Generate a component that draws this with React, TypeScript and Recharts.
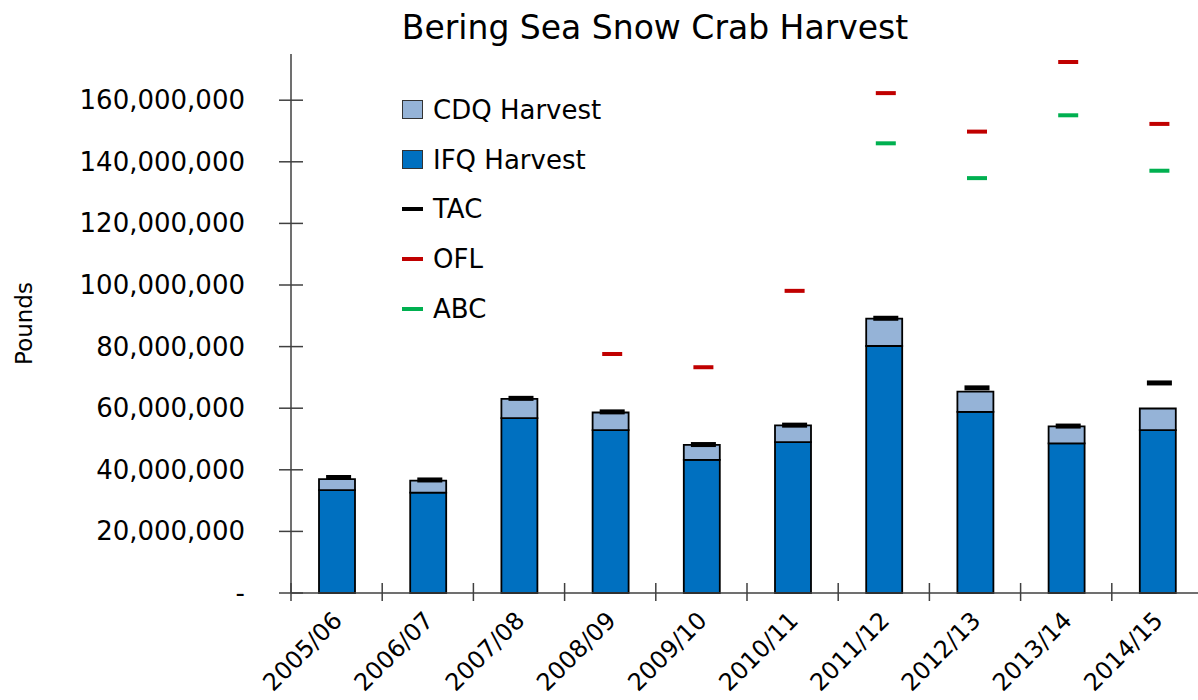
import React from 'react';
import { ComposedChart, Bar, Line, XAxis, YAxis, Legend } from 'recharts';

// values in millions of pounds
const years = ['2005/06', '2006/07', '2007/08', '2008/09', '2009/10', '2010/11', '2011/12', '2012/13', '2013/14', '2014/15'];
const ifqHarvest = [33.4, 32.6, 56.8, 52.9, 43.2, 49.0, 80.2, 58.8, 48.6, 52.9];
const cdqHarvest = [3.6, 3.9, 6.2, 5.7, 4.9, 5.4, 8.9, 6.6, 5.5, 7.0];
const tac = [37.5, 36.7, 63.2, 58.8, 48.2, 54.5, 89.2, 66.6, 54.2, 68.2];
const ofl = [null, null, null, 77.6, 73.3, 98.1, 162.3, 149.8, 172.4, 152.3];
const abc = [null, null, null, null, null, null, 146.0, 134.7, 155.1, 137.1];
const yTicks = [0, 20, 40, 60, 80, 100, 120, 140, 160];

const data = years.map((year, i) => ({
  year,
  ifq: ifqHarvest[i],
  cdq: cdqHarvest[i],
  tac: tac[i],
  ofl: ofl[i],
  abc: abc[i],
}));

const FONT = '"DejaVu Sans", sans-serif';
const CHART_W = 1210;
const CHART_H = 700;
const MARGIN = { top: 54, right: 7, bottom: 0, left: 0 };
const Y_AXIS_W = 291;
const BAND = (CHART_W - MARGIN.left - MARGIN.right - Y_AXIS_W) / years.length;

const legendItems = [
  { name: 'CDQ Harvest', color: '#95B3D7', kind: 'box' },
  { name: 'IFQ Harvest', color: '#0070C0', kind: 'box' },
  { name: 'TAC', color: '#000000', kind: 'line' },
  { name: 'OFL', color: '#C00000', kind: 'line' },
  { name: 'ABC', color: '#00B050', kind: 'line' },
];

const makeDash = (color: string, w: number, h: number) => (props: any) => {
  const { cx, cy, index } = props;
  if (cx == null || cy == null || Number.isNaN(cy)) return <g key={`d-${index}`} />;
  return <rect key={`d-${index}`} x={cx - w / 2 + 2} y={cy - h / 2} width={w} height={h} fill={color} />;
};

const YTick = (props: any) => {
  const { x, y, payload } = props;
  const label = payload.value === 0 ? '-' : (payload.value * 1e6).toLocaleString('en-US');
  return (
    <g>
      <line x1={x - 12} x2={x + 12} y1={y} y2={y} stroke="#404040" strokeWidth={1.5} />
      <text x={x - 46} y={y + 9} textAnchor="end" fontSize={26} fontFamily={FONT} fill="#000">
        {label}
      </text>
    </g>
  );
};

const XTick = (props: any) => {
  const { x, y, payload } = props;
  const tx = x + 7;
  const ty = y + 29;
  return (
    <g>
      <line x1={x - BAND / 2} x2={x - BAND / 2} y1={y - 10} y2={y + 8} stroke="#404040" strokeWidth={1.5} />
      <text x={tx} y={ty} textAnchor="end" fontSize={24} fontFamily={FONT} fill="#000" transform={`rotate(-45 ${tx} ${ty})`}>
        {payload.value}
      </text>
    </g>
  );
};

const LegendBox = () => (
  <div style={{ fontFamily: FONT, fontSize: 26, color: '#000' }}>
    {legendItems.map((item) => (
      <div key={item.name} style={{ display: 'flex', alignItems: 'center', height: 49.7 }}>
        {item.kind === 'box' ? (
          <div style={{ width: 19, height: 17, background: item.color, border: '1px solid #333' }} />
        ) : (
          <div style={{ width: 21, height: 4, background: item.color }} />
        )}
        <span style={{ marginLeft: 10, whiteSpace: 'nowrap' }}>{item.name}</span>
      </div>
    ))}
  </div>
);

export default function App() {
  return (
    <div style={{ position: 'absolute', left: 0, top: 0, width: 1198, height: 700, overflow: 'hidden', background: '#fff' }}>
      <svg width={1198} height={60} style={{ position: 'absolute', left: 0, top: 0 }}>
        <text x={655} y={39} textAnchor="middle" fontSize={33} fontFamily={FONT} fill="#000">
          Bering Sea Snow Crab Harvest
        </text>
      </svg>
      <ComposedChart width={CHART_W} height={CHART_H} data={data} margin={MARGIN}>
        <XAxis
          dataKey="year"
          interval={0}
          height={CHART_H - 593}
          tickLine={false}
          tickSize={0}
          tickMargin={0}
          tick={<XTick />}
          axisLine={{ stroke: '#404040', strokeWidth: 1.5 }}
        />
        <YAxis
          width={Y_AXIS_W}
          domain={[0, 175]}
          ticks={yTicks}
          interval={0}
          tickLine={false}
          tickSize={0}
          tickMargin={0}
          tick={<YTick />}
          axisLine={{ stroke: '#404040', strokeWidth: 1.5 }}
          label={{ value: 'Pounds', angle: -90, position: 'insideLeft', offset: 24, style: { textAnchor: 'middle', fontSize: 23, fontFamily: FONT, fill: '#000' } }}
        />
        <Legend
          layout="horizontal"
          verticalAlign="middle"
          align="center"
          content={<LegendBox />}
          wrapperStyle={{ position: 'absolute', left: 402, top: 85, width: 320 }}
        />
        <Bar dataKey="ifq" stackId="h" fill="#0070C0" stroke="#000" strokeWidth={1.8} barSize={36} isAnimationActive={false} />
        <Bar dataKey="cdq" stackId="h" fill="#95B3D7" stroke="#000" strokeWidth={1.8} barSize={36} isAnimationActive={false} />
        <Line dataKey="tac" stroke="none" dot={makeDash('#000000', 25, 5)} activeDot={false} isAnimationActive={false} />
        <Line dataKey="ofl" stroke="none" dot={makeDash('#C00000', 20, 4)} activeDot={false} isAnimationActive={false} />
        <Line dataKey="abc" stroke="none" dot={makeDash('#00B050', 20, 4)} activeDot={false} isAnimationActive={false} />
      </ComposedChart>
    </div>
  );
}
